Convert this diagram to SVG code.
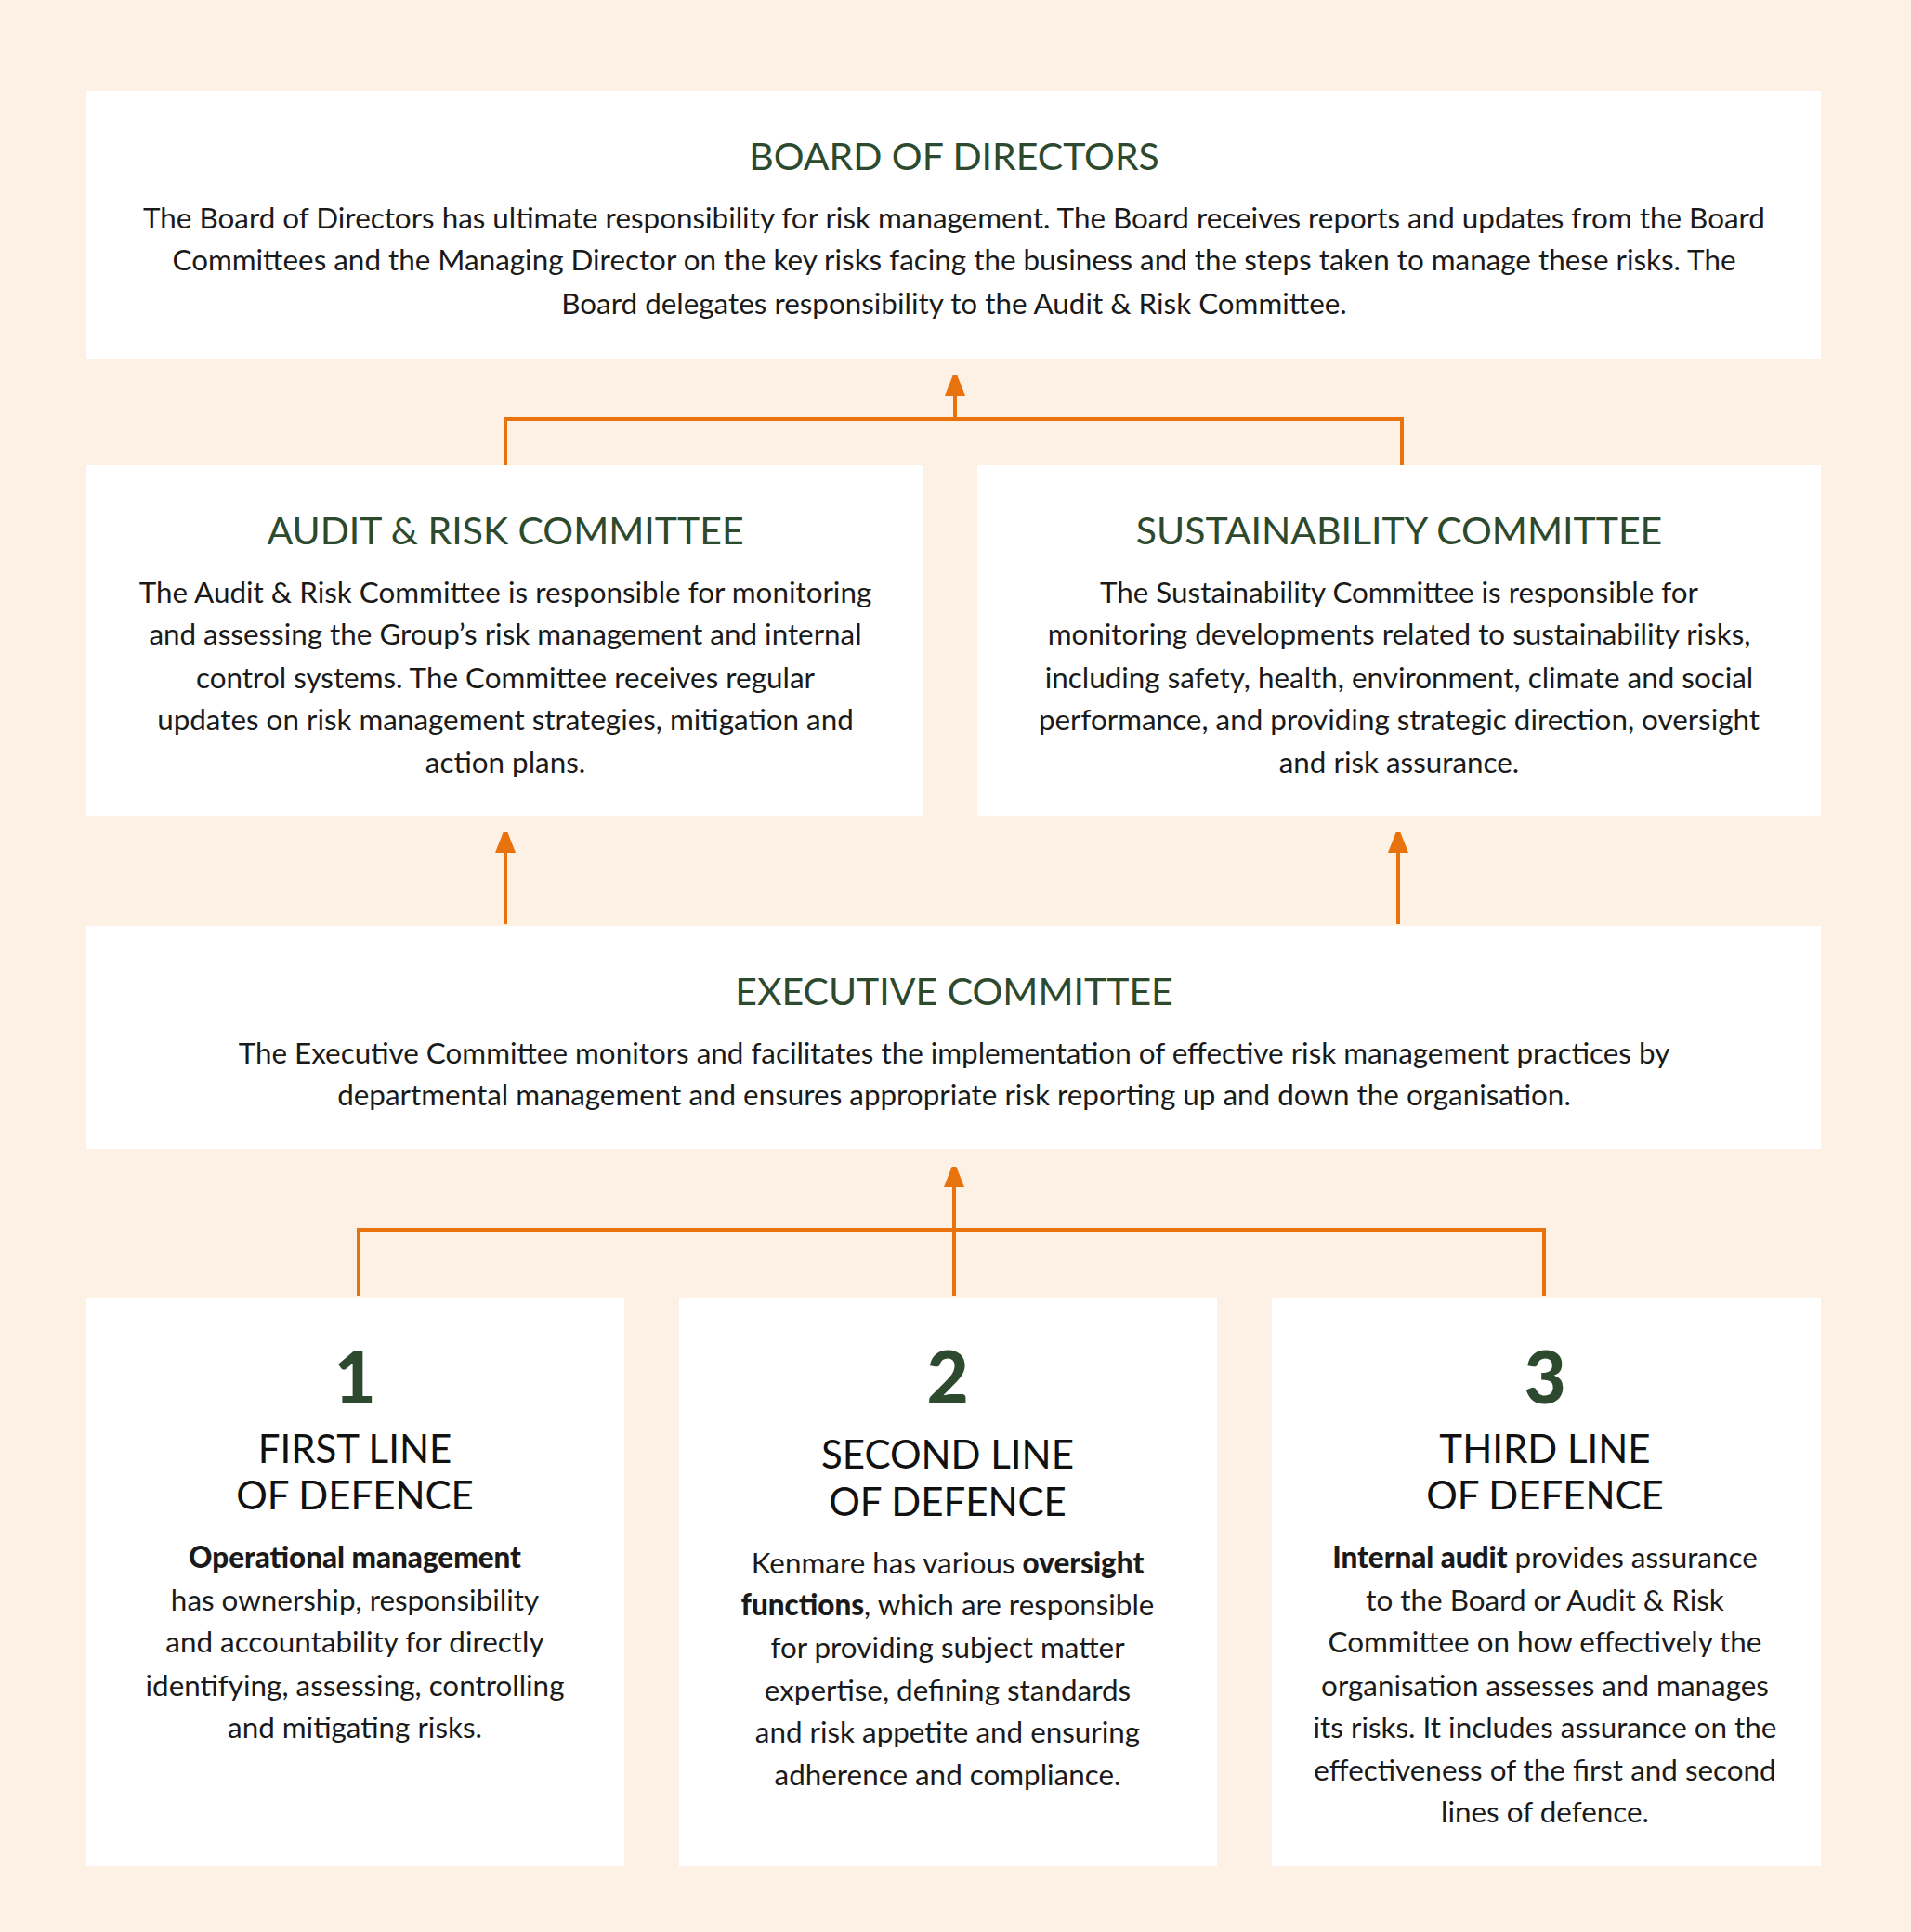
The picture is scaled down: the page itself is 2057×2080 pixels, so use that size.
<svg xmlns="http://www.w3.org/2000/svg" width="2057" height="2080" viewBox="0 0 2057 2080">
<style>
.box{fill:#fff}
.t{font-family:Lato,"Liberation Sans",sans-serif;fill:#2d4a2e;font-size:41px;text-anchor:middle}
.b{font-family:Lato,"Liberation Sans",sans-serif;fill:#1a1a1a;font-size:31.4px;text-anchor:middle}
.h{font-family:Lato,"Liberation Sans",sans-serif;fill:#111;font-size:42px;text-anchor:middle}
.n{font-family:Lato,"Liberation Sans",sans-serif;fill:#2d4a2e;font-size:78px;font-weight:900;text-anchor:middle}
.bold{font-weight:900}
.c{stroke:#e8720c;stroke-width:4;fill:none}
</style>
<defs><marker id="a" markerWidth="22" markerHeight="28" refX="0" refY="11" orient="auto" markerUnits="userSpaceOnUse"><path d="M0,0 L28,11 L0,22 z" fill="#e8720c"/></marker></defs>
<rect width="2057" height="2080" fill="#fdf0e4"/>
<g id="connectors">
<path class="c" d="M544,501 V451 H1509 V501"/>
<path class="c" d="M1028,451 V426" marker-end="url(#a)"/>
<path class="c" d="M544,995 V918" marker-end="url(#a)"/>
<path class="c" d="M1505,995 V918" marker-end="url(#a)"/>
<path class="c" d="M386,1395 V1324 H1662 V1395"/>
<path class="c" d="M1027,1395 V1278" marker-end="url(#a)"/>
</g>
<g id="board"><rect class="box" x="93" y="98" width="1867" height="288"/>
<text class="t" x="1027" y="183">BOARD OF DIRECTORS</text>
<text class="b" x="1027" y="246">The Board of Directors has ultimate responsibility for risk management. The Board receives reports and updates from the Board</text>
<text class="b" x="1027" y="291">Committees and the Managing Director on the key risks facing the business and the steps taken to manage these risks. The</text>
<text class="b" x="1027" y="338">Board delegates responsibility to the Audit &amp; Risk Committee.</text></g>
<g id="audit"><rect class="box" x="93" y="501" width="900" height="378"/>
<text class="t" x="544" y="586">AUDIT &amp; RISK COMMITTEE</text>
<text class="b" x="544" y="649">The Audit &amp; Risk Committee is responsible for monitoring</text>
<text class="b" x="544" y="694">and assessing the Group’s risk management and internal</text>
<text class="b" x="544" y="741">control systems. The Committee receives regular</text>
<text class="b" x="544" y="786">updates on risk management strategies, mitigation and</text>
<text class="b" x="544" y="832">action plans.</text></g>
<g id="sust"><rect class="box" x="1052" y="501" width="908" height="378"/>
<text class="t" x="1506" y="586">SUSTAINABILITY COMMITTEE</text>
<text class="b" x="1506" y="649">The Sustainability Committee is responsible for</text>
<text class="b" x="1506" y="694">monitoring developments related to sustainability risks,</text>
<text class="b" x="1506" y="741">including safety, health, environment, climate and social</text>
<text class="b" x="1506" y="786">performance, and providing strategic direction, oversight</text>
<text class="b" x="1506" y="832">and risk assurance.</text></g>
<g id="exec"><rect class="box" x="93" y="997" width="1867" height="240"/>
<text class="t" x="1027" y="1082">EXECUTIVE COMMITTEE</text>
<text class="b" x="1027" y="1145">The Executive Committee monitors and facilitates the implementation of effective risk management practices by</text>
<text class="b" x="1027" y="1190">departmental management and ensures appropriate risk reporting up and down the organisation.</text></g>
<g id="first"><rect class="box" x="93" y="1397" width="579" height="612"/>
<text class="n" x="382" y="1511">1</text>
<text class="h" x="382" y="1575">FIRST LINE</text><text class="h" x="382" y="1625">OF DEFENCE</text>
<text class="b bold" x="382" y="1688">Operational management</text>
<text class="b" x="382" y="1734">has ownership, responsibility</text>
<text class="b" x="382" y="1779">and accountability for directly</text>
<text class="b" x="382" y="1826">identifying, assessing, controlling</text>
<text class="b" x="382" y="1871">and mitigating risks.</text></g>
<g id="second"><rect class="box" x="731" y="1397" width="579" height="612"/>
<text class="n" x="1020" y="1511">2</text>
<text class="h" x="1020" y="1581">SECOND LINE</text><text class="h" x="1020" y="1632">OF DEFENCE</text>
<text class="b" x="1020" y="1694">Kenmare has various <tspan class="bold">oversight</tspan></text>
<text class="b" x="1020" y="1739"><tspan class="bold">functions</tspan>, which are responsible</text>
<text class="b" x="1020" y="1785">for providing subject matter</text>
<text class="b" x="1020" y="1831">expertise, defining standards</text>
<text class="b" x="1020" y="1876">and risk appetite and ensuring</text>
<text class="b" x="1020" y="1922">adherence and compliance.</text></g>
<g id="third"><rect class="box" x="1369" y="1397" width="591" height="612"/>
<text class="n" x="1663" y="1511">3</text>
<text class="h" x="1663" y="1575">THIRD LINE</text><text class="h" x="1663" y="1625">OF DEFENCE</text>
<text class="b" x="1663" y="1688"><tspan class="bold">Internal audit</tspan> provides assurance</text>
<text class="b" x="1663" y="1734">to the Board or Audit &amp; Risk</text>
<text class="b" x="1663" y="1779">Committee on how effectively the</text>
<text class="b" x="1663" y="1826">organisation assesses and manages</text>
<text class="b" x="1663" y="1871">its risks. It includes assurance on the</text>
<text class="b" x="1663" y="1917">effectiveness of the first and second</text>
<text class="b" x="1663" y="1962">lines of defence.</text></g>
</svg>
